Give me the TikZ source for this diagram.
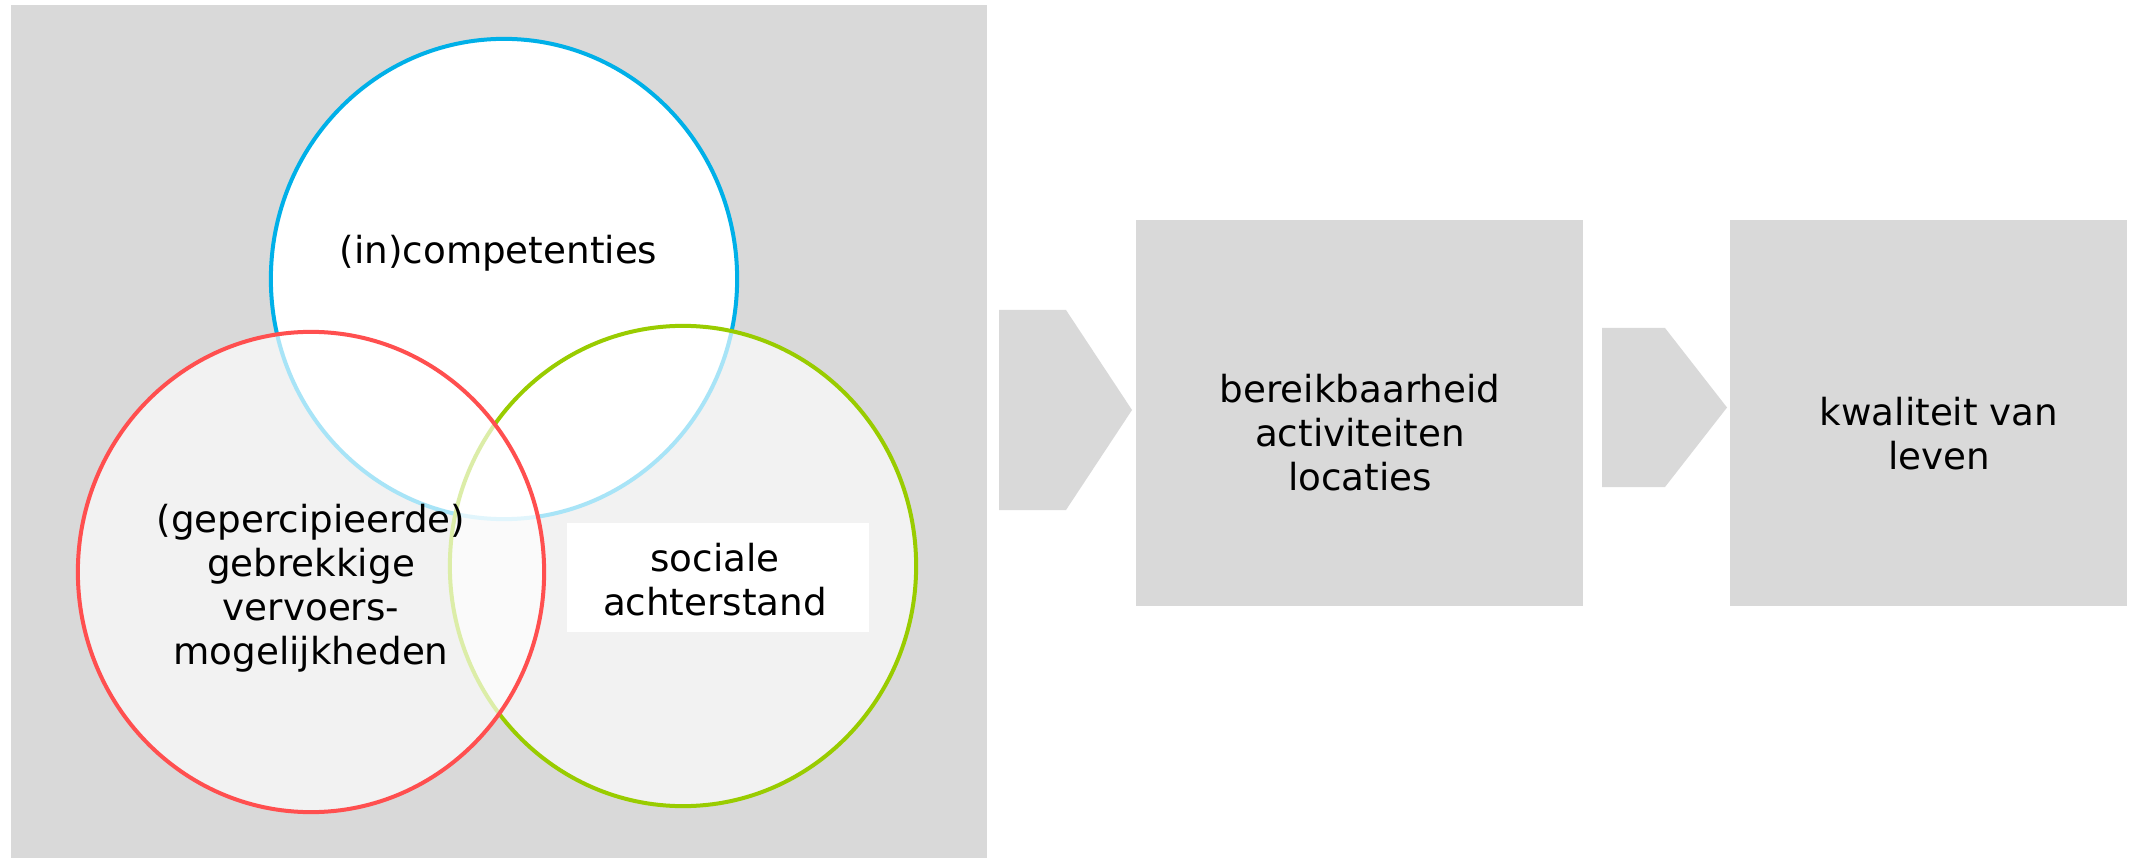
\documentclass[tikz,border=0pt]{standalone}
\usepackage{fontspec}
\setmainfont{DejaVu Sans}
\usetikzlibrary{shapes.geometric}
\definecolor{panelgray}{HTML}{D9D9D9}
\definecolor{cblue}{HTML}{00B0E8}
\definecolor{cred}{HTML}{FF4F4F}
\definecolor{cgreen}{HTML}{99CC00}
\begin{document}
\begin{tikzpicture}[x=0.01cm,y=-0.01cm,
  venn/.style={ellipse, minimum width=4.66cm, minimum height=4.80cm, inner sep=0pt, line width=0.04cm},
  lbl/.style={align=center, font=\fontsize{10.6}{12.5}\selectfont, inner sep=0pt, text=black},
  graybox/.style={fill=panelgray, draw=none, inner sep=0pt},
  chev/.style={fill=panelgray, draw=none}]
\useasboundingbox (0,0) rectangle (2134,858);
% left panel
\node[graybox, minimum width=9.76cm, minimum height=8.53cm] (panel) at (499,431.5) {};
% Venn circles
\node[venn, draw=cblue, fill=white] (comp) at (504,279) {};
\node[venn, draw=cgreen, fill=white, fill opacity=0.66, draw opacity=1] (soc) at (683,566) {};
\node[venn, draw=cred, fill=white, fill opacity=0.66, draw opacity=1] (verv) at (311,572) {};
% labels
\node[lbl] (tcomp) at (498.5,253) {(in)competenties};
\node[lbl] (tverv) at (311,588) {(gepercipieerde)\\gebrekkige\\vervoers-\\mogelijkheden};
\node[fill=white, inner sep=0pt, minimum width=3.02cm, minimum height=1.09cm] (socbox) at (718,577.5) {};
\node[lbl] (tsoc) at (715,580) {sociale\\achterstand};
% right boxes
\node[graybox, minimum width=4.465cm, minimum height=3.852cm] (b1) at (1359.75,413.1) {};
\node[graybox, minimum width=3.97cm, minimum height=3.852cm] (b2) at (1928.5,413.1) {};
\node[lbl] (tb1) at (1360,433) {bereikbaarheid\\activiteiten\\locaties};
\node[lbl] (tb2) at (1939,434) {kwaliteit van\\leven};
% chevrons
\fill[chev] (999,310) -- (1066,310) -- (1132,410) -- (1066,510) -- (999,510) -- cycle;
\fill[chev] (1602,328) -- (1665,328) -- (1727,407.5) -- (1665,487) -- (1602,487) -- cycle;
\end{tikzpicture}
\end{document}
